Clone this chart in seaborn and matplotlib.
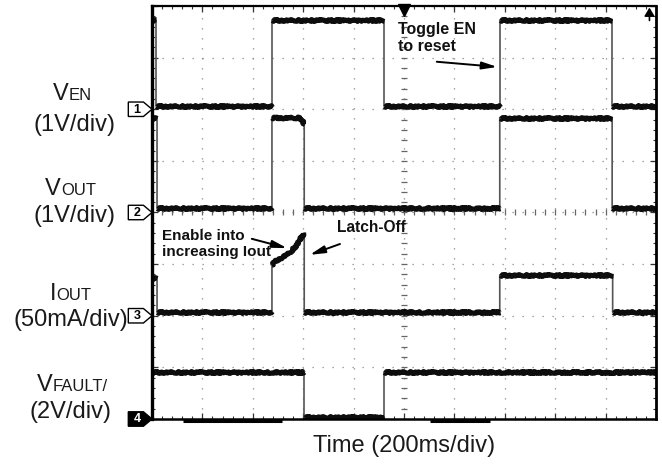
import numpy as np
import pandas as pd
import matplotlib
matplotlib.use("Agg")
import matplotlib.pyplot as plt
import seaborn as sns
from matplotlib.patches import Polygon

# ---------------- data (time in divisions, 200 ms/div) ----------------
ven_t = [0.00, 0.08, 0.08, 2.38, 2.38, 4.60, 4.60, 6.90, 6.90, 9.13, 9.13, 10.0]
ven_v = [1.73, 1.73, 0.07, 0.07, 1.73, 1.73, 0.07, 0.07, 1.73, 1.73, 0.07, 0.07]

vout_t = [0.00, 0.10, 0.10, 2.38, 2.38, 2.93, 2.99, 3.02, 3.02, 6.90, 6.90, 9.13, 9.13, 10.0]
vout_v = [1.84, 1.84, 0.08, 0.08, 1.83, 1.83, 1.78, 1.70, 0.08, 0.08, 1.84, 1.84, 0.08, 0.08]

iout_t = [0.00, 0.10, 0.10, 2.38, 2.38, 2.44, 2.60, 2.74, 2.87, 2.97, 3.02, 3.02,
          6.90, 6.90, 9.14, 9.14, 10.0]
iout_ma = [37.0, 37.0, 3.5, 3.5, 49.0, 52.5, 57.0, 61.0, 68.5, 76.5, 80.0, 3.5,
           3.5, 39.5, 39.5, 3.5, 3.5]

vfault_t = [0.00, 3.02, 3.02, 4.61, 4.61, 10.0]
vfault_v = [1.83, 1.83, 0.08, 0.08, 1.83, 1.83]

channel_names = ["VEN", "VOUT", "IOUT", "VFAULT"]
channel_offsets = [6, 4, 2, 0]          # reference level (divisions)
channel_scales = [1.0, 1.0, 50.0, 2.0]  # units per division
channel_ids = ["1", "2", "3", "4"]

label_big = ["V", "V", "I", "V"]
label_small = ["EN", "OUT", "OUT", "FAULT/"]
label_scale = ["(1V/div)", "(1V/div)", "(50mA/div)", "(2V/div)"]
xlabel = "Time (200ms/div)"

# ---------------- style ----------------
sns.set_style("white")
plt.rcParams["font.family"] = ["Liberation Sans", "DejaVu Sans"]

W, H = 662, 466
fig = plt.figure(figsize=(W / 100, H / 100), dpi=100)
fig.patch.set_facecolor("white")
ax_l, ax_r, ax_t, ax_b = 152, 656, 6, 419
ax = fig.add_axes([ax_l / W, 1 - ax_b / H, (ax_r - ax_l) / W, (ax_b - ax_t) / H])
ax.set_xlim(0, 10)
ax.set_ylim(0, 8)

# grid (dotted) and ticks
ax.set_xticks(np.arange(0, 11, 1))
ax.set_yticks(np.arange(0, 9, 1))
ax.set_xticks(np.arange(0, 10.01, 0.2), minor=True)
ax.set_yticks(np.arange(0, 8.01, 0.2), minor=True)
ax.tick_params(which="both", direction="in", top=True, right=True, bottom=True, left=True,
               labelbottom=False, labelleft=False, color="#333")
ax.tick_params(which="major", length=4.5, width=0.9)
ax.tick_params(which="minor", length=2.5, width=0.8)
ax.grid(True, which="major", color="#888", lw=0.9, ls=(0, (1, 7)))
for side, lw in zip(["left", "right", "top", "bottom"], [2.4, 2.0, 1.6, 1.8]):
    ax.spines[side].set_visible(True)
    ax.spines[side].set_color("black")
    ax.spines[side].set_linewidth(lw)

# centre cross tick marks
cy = np.arange(0.2, 8.0, 0.2)
cx = np.arange(0.2, 10.0, 0.2)
ax.plot(np.full(len(cy), 5.0), cy, ls="none", marker="_", ms=5, mew=0.9, color="#666")
ax.plot(cx, np.full(len(cx), 4.0), ls="none", marker="|", ms=5, mew=0.9, color="#666")

# trigger marker at top
ax.plot([5.0], [7.93], marker="v", ms=8, color="black", clip_on=False)
ax.annotate("", xy=(9.87, 7.97), xytext=(9.87, 7.72),
            arrowprops=dict(arrowstyle="-|>,head_length=0.5,head_width=0.3", lw=1.2,
                            color="black", shrinkA=0, shrinkB=0), annotation_clip=False)
# scope UI bars on the bottom border
ax.plot([0.62, 2.58], [-0.035, -0.035], lw=2.2, color="black", clip_on=False, solid_capstyle="butt")
ax.plot([5.52, 6.70], [-0.035, -0.035], lw=2.2, color="black", clip_on=False, solid_capstyle="butt")

# ---------------- traces ----------------
traces_t = [ven_t, vout_t, iout_t, vfault_t]
traces_v = [ven_v, vout_v, iout_ma, vfault_v]
rows, run_rows = [], []
run_id = 0
for name, ts, vs, off, sc in zip(channel_names, traces_t, traces_v, channel_offsets, channel_scales):
    ys = [off + v / sc for v in vs]
    for i, (t, y) in enumerate(zip(ts, ys)):
        rows.append({"trace": name, "order": i, "t": t, "y": y})
    # thick runs: consecutive vertices with increasing time (no vertical edges)
    for i, (t, y) in enumerate(zip(ts, ys)):
        if i > 0 and ts[i] == ts[i - 1]:
            run_id += 1
        run_rows.append({"run": run_id, "t": t, "y": y})
    run_id += 1
df = pd.DataFrame(rows)
run_df = pd.DataFrame(run_rows)

sns.lineplot(data=df, x="t", y="y", units="trace", estimator=None, sort=False,
             color="#555", lw=1.2, ax=ax, legend=False)
n_before = len(ax.lines)
sns.lineplot(data=run_df, x="t", y="y", units="run", estimator=None, sort=False,
             color="#0d0d0d", lw=3.6, ax=ax, legend=False,
             solid_capstyle="butt", solid_joinstyle="round")
for ln in ax.lines[n_before:]:
    ln.set_sketch_params(scale=1.0, length=1.6, randomness=2.0)
ax.set_xlabel("")
ax.set_ylabel("")

# ---------------- channel markers ----------------
for cid, off in zip(channel_ids, channel_offsets):
    filled = cid == "4"
    pts = [(-0.47, off + 0.14), (-0.17, off + 0.14), (0.0, off), (-0.17, off - 0.14), (-0.47, off - 0.14)]
    poly = Polygon(pts, closed=True, transform=ax.transData, clip_on=False,
                   facecolor="black" if filled else "white", edgecolor="black", lw=1.0, zorder=5)
    ax.add_patch(poly)
    ax.text(-0.30, off - 0.005, cid, ha="center", va="center", fontsize=9, fontweight="bold",
            color="white" if filled else "black", clip_on=False, zorder=6)

# ---------------- left labels ----------------
name_base = [100, 195, 300, 391]
scale_base = [131, 222, 326, 418]
name_cx = [72, 70.5, 71, 72.5]
scale_cx = [74.5, 74.5, 71, 70.5]
fig.canvas.draw()
rend = fig.canvas.get_renderer()
for big, small, sc_txt, nb, sb, ncx, scx in zip(label_big, label_small, label_scale,
                                                 name_base, scale_base, name_cx, scale_cx):
    t1 = fig.text(0, 1 - nb / H, big, fontsize=17, va="baseline", ha="left", color="#1a1a1a")
    t2 = fig.text(0, 1 - nb / H, small, fontsize=12, va="baseline", ha="left", color="#1a1a1a")
    w1 = t1.get_window_extent(rend).width
    w2 = t2.get_window_extent(rend).width
    x0 = ncx - (w1 + w2) / 2
    t1.set_x(x0 / W)
    t2.set_x((x0 + w1) / W)
    fig.text(scx / W, 1 - sb / H, sc_txt, fontsize=17, va="baseline", ha="center", color="#1a1a1a")

fig.text(404 / W, 1 - 452 / H, xlabel, fontsize=17, va="baseline", ha="center", color="#1a1a1a")

# ---------------- annotations ----------------
arrow_kw = dict(arrowstyle="-|>,head_length=0.9,head_width=0.22", lw=1.4, color="black",
                shrinkA=0, shrinkB=0)
ax.text(4.88, 7.38, "Toggle EN\nto reset", fontsize=11.5, fontweight="bold",
        ha="left", va="center", linespacing=1.2, color="#111")
ax.annotate("", xy=(6.85, 6.82), xytext=(5.65, 6.92), arrowprops=arrow_kw)

ax.text(0.20, 3.39, "Enable into\nincreasing Iout", fontsize=11, fontweight="bold",
        ha="left", va="center", linespacing=1.18, color="#111")
ax.annotate("", xy=(2.68, 3.31), xytext=(1.98, 3.49), arrowprops=arrow_kw)

ax.text(3.67, 3.70, "Latch-Off", fontsize=11.2, fontweight="bold",
        ha="left", va="center", color="#111")
ax.annotate("", xy=(3.13, 3.18), xytext=(3.73, 3.39), arrowprops=arrow_kw)

fig.savefig("out.png", dpi=100, facecolor="white")
